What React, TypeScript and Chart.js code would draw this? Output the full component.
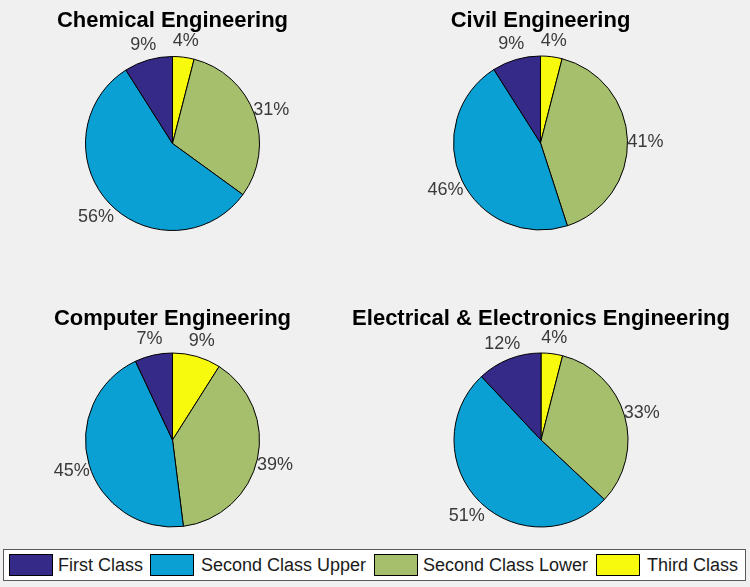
import React, { useEffect, useRef } from "react";
import { Chart, registerables } from "chart.js";

Chart.register(...registerables);

// ---- data ----
const classes = ["First Class", "Second Class Upper", "Second Class Lower", "Third Class"];
const classColors = ["#352a87", "#0aa0d3", "#a5bf6c", "#f8fa0d"];
const titles = [
  "Chemical Engineering",
  "Civil Engineering",
  "Computer Engineering",
  "Electrical & Electronics Engineering",
];
const chemical = [9, 56, 31, 4];
const civil = [9, 46, 41, 4];
const computer = [7, 45, 39, 9];
const electrical = [12, 51, 33, 4];

const FONT = '"Liberation Sans", Arial, Helvetica, sans-serif';

const pieText = {
  id: "pieText",
  afterDatasetsDraw(chart: any, _args: any, opts: any) {
    const ctx = chart.ctx;
    const meta = chart.getDatasetMeta(0);
    const data: number[] = chart.data.datasets[0].data;
    const total = data.reduce((a, b) => a + b, 0);
    ctx.save();
    ctx.font = "18px " + FONT;
    ctx.fillStyle = "#3a3a3a";
    ctx.textAlign = "center";
    ctx.textBaseline = "middle";
    let cx = 0;
    let cy = 0;
    meta.data.forEach((arc: any, i: number) => {
      const p = arc.getProps(["x", "y", "startAngle", "endAngle", "outerRadius"], true);
      cx = p.x;
      cy = p.y;
      const mid = (p.startAngle + p.endAngle) / 2;
      const R = (p.outerRadius + 0.5) * 1.2;
      ctx.fillText(
        Math.round((data[i] / total) * 100) + "%",
        p.x + R * Math.cos(mid),
        p.y + R * Math.sin(mid) + 2
      );
    });
    ctx.font = "bold 22px " + FONT;
    ctx.fillStyle = "#000";
    ctx.textBaseline = "alphabetic";
    ctx.fillText(opts.title, cx, cy - opts.titleGap);
    ctx.restore();
  },
};

type PanelProps = {
  title: string;
  values: number[];
  left: number;
  top: number;
  width: number;
  height: number;
  cx: number;
  cy: number;
  titleGap: number;
};

function Panel({ title, values, left, top, width, height, cx, cy, titleGap }: PanelProps) {
  const ref = useRef<HTMLCanvasElement>(null);
  useEffect(() => {
    if (!ref.current) return;
    const r = 87.5;
    // Chart.js draws clockwise; reverse order so slices run counter-clockwise from the top like the reference
    const order = [3, 2, 1, 0];
    const chart = new Chart(ref.current, {
      type: "pie",
      data: {
        labels: order.map((i) => classes[i]),
        datasets: [
          {
            data: order.map((i) => values[i]),
            backgroundColor: order.map((i) => classColors[i]),
            borderColor: "#000",
            borderWidth: 1,
          },
        ],
      },
      options: {
        animation: false,
        responsive: false,
        maintainAspectRatio: false,
        devicePixelRatio: 1,
        layout: {
          padding: {
            left: cx - r,
            right: width - cx - r,
            top: cy - r,
            bottom: height - cy - r,
          },
        },
        plugins: {
          legend: { display: false },
          tooltip: { enabled: false },
          title: { display: false },
          // @ts-ignore
          pieText: { title, titleGap },
        },
      } as any,
      plugins: [pieText as any],
    });
    return () => chart.destroy();
  }, []);
  return (
    <canvas
      ref={ref}
      width={width}
      height={height}
      style={{ position: "absolute", left, top, width, height }}
    />
  );
}

const swatchLeft = [5, 146, 370, 592];
const textLeft = [54, 197, 419, 643];

export default function App() {
  return (
    <div
      style={{
        position: "fixed",
        left: 0,
        top: 0,
        width: 750,
        height: 587,
        background: "#f0f0f0",
        overflow: "hidden",
      }}
    >
      <Panel title={titles[0]} values={chemical} left={0} top={0} width={375} height={290} cx={172.5} cy={143.5} titleGap={116.5} />
      <Panel title={titles[1]} values={civil} left={375} top={0} width={375} height={290} cx={165.5} cy={143} titleGap={116} />
      <Panel title={titles[2]} values={computer} left={0} top={290} width={330} height={255} cx={172.5} cy={150} titleGap={115} />
      <Panel title={titles[3]} values={electrical} left={330} top={290} width={420} height={255} cx={211} cy={150} titleGap={115} />
      <div
        style={{
          position: "absolute",
          left: 3,
          top: 549,
          width: 741,
          height: 30,
          background: "#fff",
          border: "1px solid #5a5a5a",
          fontFamily: FONT,
          fontSize: 18,
          color: "#1a1a1a",
        }}
      >
        {classes.map((c, i) => (
          <React.Fragment key={c}>
            <div
              style={{
                position: "absolute",
                left: swatchLeft[i],
                top: 4,
                width: 42,
                height: 20,
                background: classColors[i],
                border: "1px solid #000",
              }}
            />
            <div
              style={{
                position: "absolute",
                left: textLeft[i],
                top: 0,
                height: 30,
                lineHeight: "30px",
                whiteSpace: "nowrap",
              }}
            >
              {c}
            </div>
          </React.Fragment>
        ))}
      </div>
    </div>
  );
}
